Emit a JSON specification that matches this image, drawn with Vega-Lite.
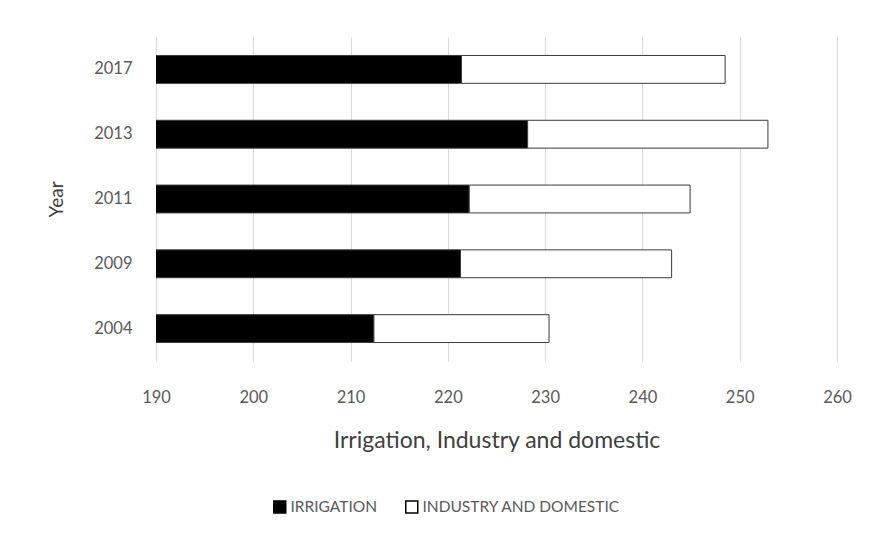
{
  "$schema": "https://vega.github.io/schema/vega-lite/v6.json",
  "autosize": "none",
  "width": 681,
  "height": 324,
  "padding": {"left": 156, "top": 37, "right": 34, "bottom": 174},
  "background": "white",
  "data": {
    "values": [
      {"Year": "2017", "Use": "IRRIGATION", "Value": 221.4},
      {"Year": "2017", "Use": "INDUSTRY AND DOMESTIC", "Value": 27.1},
      {"Year": "2013", "Use": "IRRIGATION", "Value": 228.2},
      {"Year": "2013", "Use": "INDUSTRY AND DOMESTIC", "Value": 24.7},
      {"Year": "2011", "Use": "IRRIGATION", "Value": 222.2},
      {"Year": "2011", "Use": "INDUSTRY AND DOMESTIC", "Value": 22.7},
      {"Year": "2009", "Use": "IRRIGATION", "Value": 221.3},
      {"Year": "2009", "Use": "INDUSTRY AND DOMESTIC", "Value": 21.7},
      {"Year": "2004", "Use": "IRRIGATION", "Value": 212.4},
      {"Year": "2004", "Use": "INDUSTRY AND DOMESTIC", "Value": 18.0}
    ]
  },
  "mark": {"type": "bar", "clip": true, "stroke": "#3a3a3a", "strokeWidth": 1},
  "encoding": {
    "y": {
      "field": "Year",
      "type": "nominal",
      "sort": "descending",
      "scale": {"paddingInner": 0.57, "paddingOuter": 0.285},
      "axis": {
        "title": "Year",
        "domain": false,
        "ticks": false,
        "labelPadding": 24,
        "labelFontSize": 16.5,
        "titleFontSize": 19,
        "titleFontWeight": "normal",
        "titlePadding": 27
      }
    },
    "x": {
      "field": "Value",
      "type": "quantitative",
      "stack": "zero",
      "scale": {"domain": [190, 260], "nice": false, "zero": false},
      "axis": {
        "title": "Irrigation, Industry and domestic",
        "values": [190, 200, 210, 220, 230, 240, 250, 260],
        "domain": false,
        "ticks": false,
        "grid": true,
        "labelFlush": false,
        "labelPadding": 28,
        "labelFontSize": 16.5,
        "titleFontSize": 23,
        "titleFontWeight": "normal",
        "titlePadding": 24
      }
    },
    "color": {
      "field": "Use",
      "type": "nominal",
      "scale": {"domain": ["IRRIGATION", "INDUSTRY AND DOMESTIC"], "range": ["#000000", "#ffffff"]},
      "legend": {
        "title": null,
        "orient": "none",
        "direction": "horizontal",
        "legendX": 116,
        "legendY": 462,
        "padding": 0,
        "symbolType": "square",
        "symbolSize": 144,
        "symbolStrokeColor": "#000000",
        "symbolStrokeWidth": 1.5,
        "labelFontSize": 15.5,
        "labelLimit": 400,
        "labelOffset": 3,
        "columnPadding": 25
      }
    },
    "order": {"field": "Use", "sort": "descending"}
  },
  "config": {
    "view": {"stroke": null},
    "font": "Lato",
    "axis": {
      "labelColor": "#595959",
      "titleColor": "#404040",
      "gridColor": "#d9d9d9",
      "gridWidth": 1
    },
    "legend": {"labelColor": "#595959"}
  }
}
